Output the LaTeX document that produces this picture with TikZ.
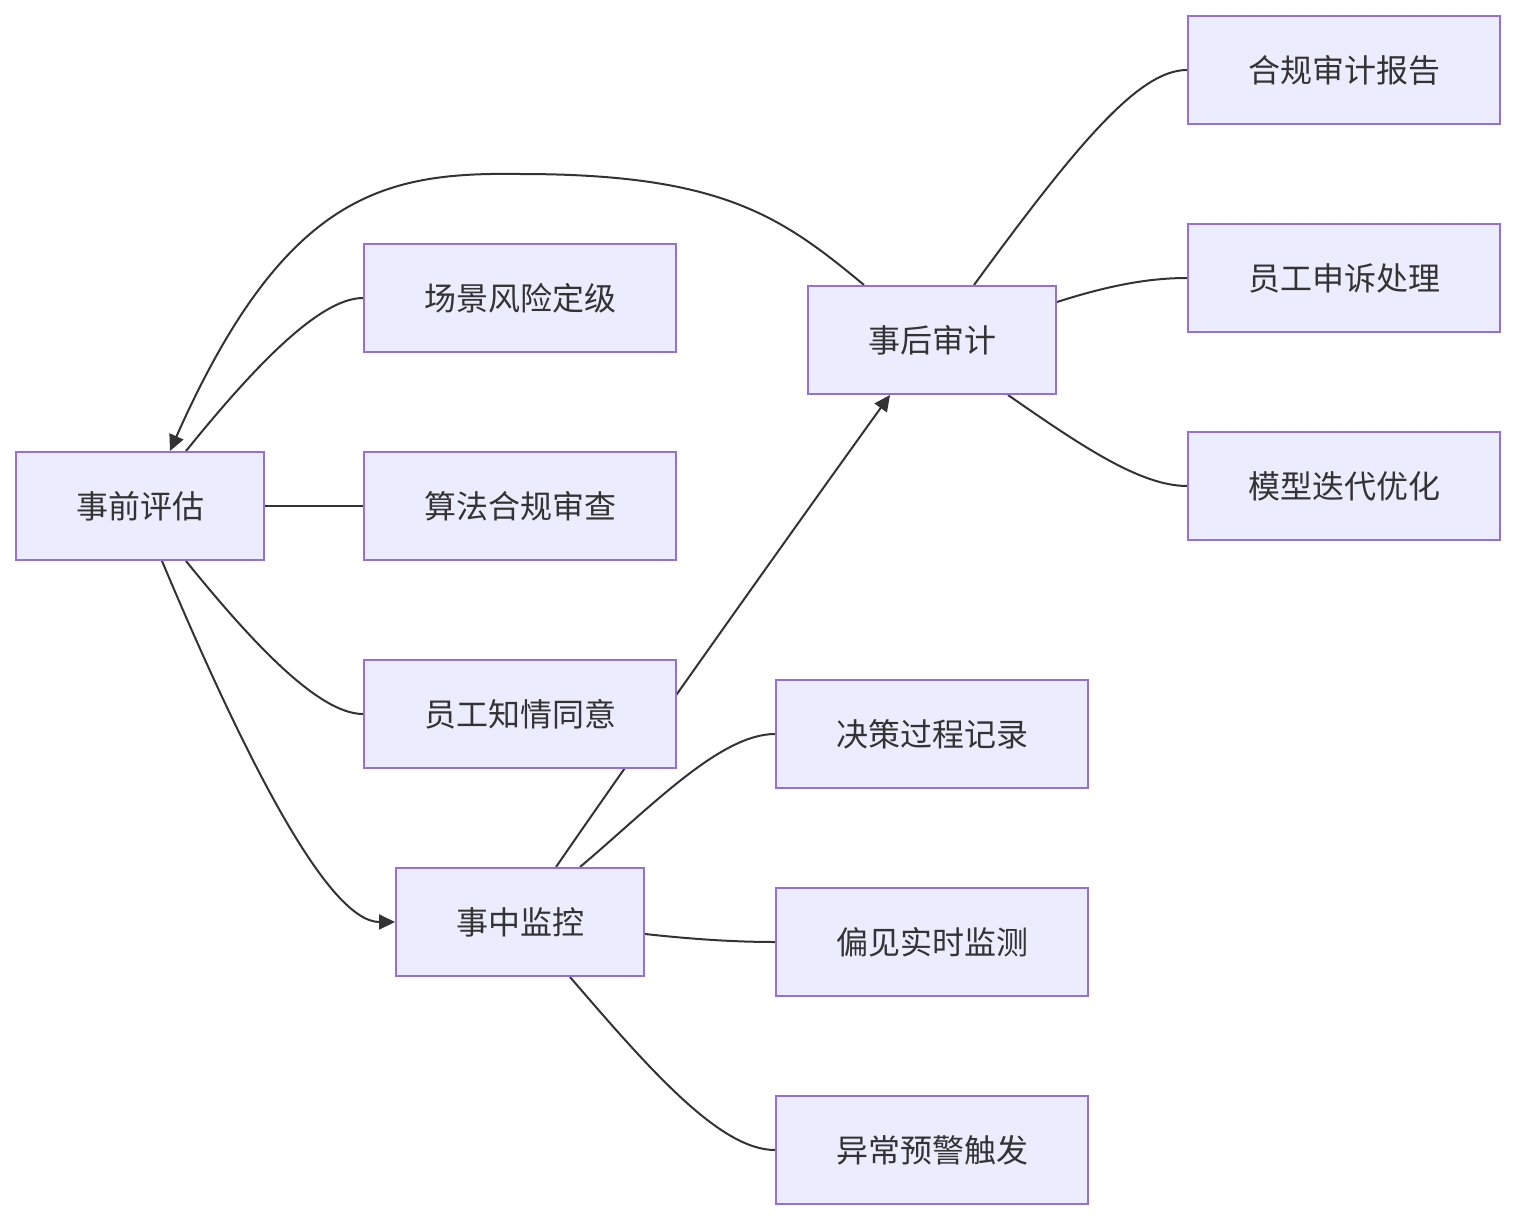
\documentclass[tikz,border=0pt]{standalone}
\usepackage{fontspec}
\setmainfont{Noto Sans CJK SC}
\usetikzlibrary{arrows.meta}
\definecolor{boxfill}{HTML}{ECECFF}
\definecolor{boxline}{HTML}{9370DB}
\definecolor{ink}{HTML}{333333}
\pgfdeclarelayer{edges}
\pgfsetlayers{edges,main}
\begin{document}
\begin{tikzpicture}[x=1pt,y=-1pt,
  box/.style={draw=boxline,fill=boxfill,line width=2pt,minimum height=108pt,inner sep=0pt,text=ink,font=\fontsize{32}{38}\selectfont},
  wide/.style={box,minimum width=312pt},
  narrow/.style={box,minimum width=248pt},
  link/.style={draw=ink,line width=2pt},
  arr/.style={link,-{Triangle[length=16pt,width=15pt]}}]
\useasboundingbox (0,0) rectangle (1516,1220);
\node[narrow] (pre) at (140,506) {事前评估};
\node[wide] (scene) at (520,298) {场景风险定级};
\node[wide] (algo) at (520,506) {算法合规审查};
\node[wide] (cons) at (520,714) {员工知情同意};
\node[narrow] (mid) at (520,922) {事中监控};
\node[narrow] (post) at (932,340) {事后审计};
\node[wide] (rec) at (932,734) {决策过程记录};
\node[wide] (bias) at (932,942) {偏见实时监测};
\node[wide] (alarm) at (932,1150) {异常预警触发};
\node[wide] (rep) at (1344,70) {合规审计报告};
\node[wide] (appeal) at (1344,278) {员工申诉处理};
\node[wide] (iter) at (1344,486) {模型迭代优化};
\begin{pgfonlayer}{edges}
\draw[link] ([xshift=46pt]pre.north) .. controls (250,372) and (318,298) .. (scene.west);
\draw[link] (pre.east) -- (algo.west);
\draw[link] ([xshift=46pt]pre.south) .. controls (250,640) and (318,714) .. (cons.west);
\draw[arr] ([xshift=22pt]pre.south) .. controls (250,770) and (330,922) .. (mid.west);
\draw[link] ([xshift=60pt]mid.north) .. controls (650,808) and (720,734) .. (rec.west);
\draw[link] ([yshift=-12pt]mid.east) .. controls (700,940) and (740,942) .. (bias.west);
\draw[link] ([xshift=50pt]mid.south) .. controls (650,1070) and (720,1150) .. (alarm.west);
\draw[link] ([xshift=42pt]post.north) .. controls (1080,140) and (1140,70) .. (rep.west);
\draw[link] ([yshift=38pt]post.east) .. controls (1110,285) and (1150,278) .. (appeal.west);
\draw[link] ([xshift=76pt]post.south) .. controls (1080,445) and (1140,486) .. (iter.west);
\draw[arr] ([xshift=-68pt]post.north) .. controls (780,215) and (720,174) .. (520,174) .. controls (385,172) and (285,192) .. ([xshift=30pt]pre.north);
\draw[arr] ([xshift=36pt]mid.north) .. controls (640,745) and (800,520) .. ([xshift=-42pt]post.south);
\end{pgfonlayer}
\end{tikzpicture}
\end{document}
